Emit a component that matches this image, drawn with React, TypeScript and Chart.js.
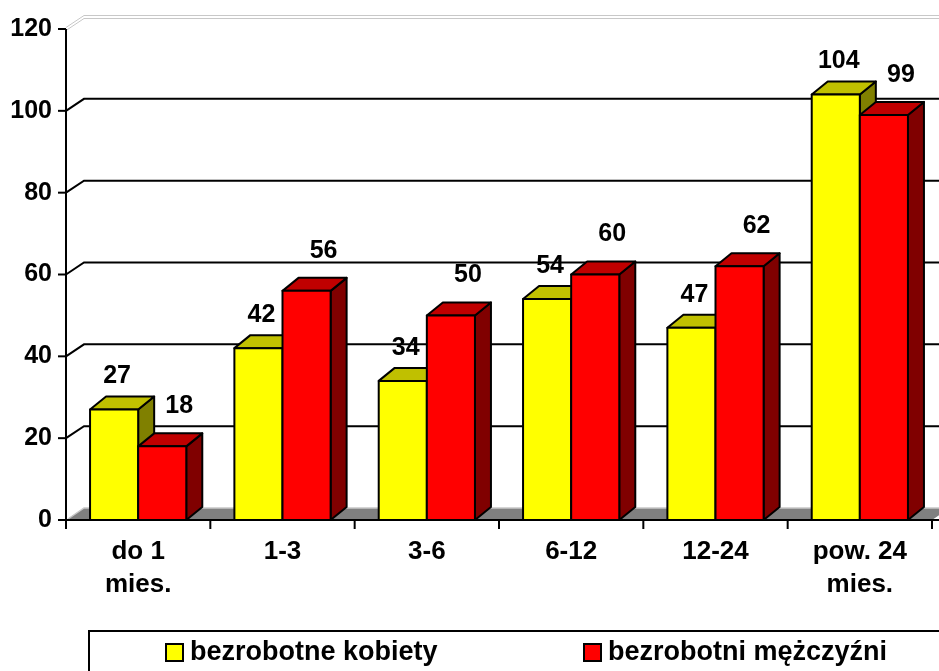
import React, { useEffect, useRef } from "react";
import { Chart, registerables } from "chart.js";

Chart.register(...registerables);

const categories: (string | string[])[] = [["do 1", "mies."], "1-3", "3-6", "6-12", "12-24", ["pow. 24", "mies."]];
const women = [27, 42, 34, 54, 47, 104];
const men = [18, 56, 50, 60, 62, 99];
const seriesNames = ["bezrobotne kobiety", "bezrobotni mężczyźni"];
const yTicks = [0, 20, 40, 60, 80, 100, 120];

const FONT = "'Liberation Sans', Arial, sans-serif";
const colorsFront = ["#FFFF00", "#FF0000"];
const colorsTop = ["#C0C000", "#C00000"];
const colorsSide = ["#808000", "#800000"];

const WALL_DX = 18;
const WALL_DY = -12;
const BAR_DX = 16;
const BAR_DY = -13;

const threeD = {
  id: "threeD",
  beforeDatasetsDraw(chart: any) {
    const ctx: CanvasRenderingContext2D = chart.ctx;
    const area = chart.chartArea;
    const y = chart.scales.y;
    const L = area.left;
    const R = area.right;
    const B = y.getPixelForValue(0);
    const T = y.getPixelForValue(120);
    ctx.save();
    // floor
    ctx.beginPath();
    ctx.moveTo(L, B);
    ctx.lineTo(R, B);
    ctx.lineTo(R + WALL_DX, B + WALL_DY);
    ctx.lineTo(L + WALL_DX, B + WALL_DY);
    ctx.closePath();
    ctx.fillStyle = "#808080";
    ctx.fill();
    ctx.strokeStyle = "#C8C8C8";
    ctx.lineWidth = 1.5;
    ctx.beginPath();
    ctx.moveTo(L + 2, B - 1);
    ctx.lineTo(L + WALL_DX, B + WALL_DY);
    ctx.lineTo(R + WALL_DX + 20, B + WALL_DY);
    ctx.stroke();

    // gridlines on back wall and diagonals
    for (const v of yTicks) {
      if (v === 0) continue;
      const py = y.getPixelForValue(v);
      if (v === 120) {
        ctx.strokeStyle = "#C8C8C8";
        ctx.lineWidth = 1;
        for (const off of [-1.5, 1.5]) {
          ctx.beginPath();
          ctx.moveTo(L, py + off);
          ctx.lineTo(L + WALL_DX, py + WALL_DY + off);
          ctx.lineTo(R + WALL_DX + 20, py + WALL_DY + off);
          ctx.stroke();
        }
      } else {
        ctx.strokeStyle = "#000";
        ctx.lineWidth = 2;
        ctx.beginPath();
        ctx.moveTo(L, py);
        ctx.lineTo(L + WALL_DX, py + WALL_DY);
        ctx.lineTo(R + WALL_DX + 20, py + WALL_DY);
        ctx.stroke();
      }
    }

    // axes
    ctx.strokeStyle = "#000";
    ctx.lineWidth = 2;
    ctx.beginPath();
    ctx.moveTo(L, T);
    ctx.lineTo(L, B + 8);
    ctx.moveTo(L, B);
    ctx.lineTo(R + 20, B);
    ctx.stroke();
    for (const v of yTicks) {
      const py = y.getPixelForValue(v);
      ctx.beginPath();
      ctx.moveTo(L - 8, py);
      ctx.lineTo(L, py);
      ctx.stroke();
    }
    const n = categories.length;
    for (let i = 0; i <= n; i++) {
      const px = L + ((R - L) * i) / n;
      ctx.beginPath();
      ctx.moveTo(px, B);
      ctx.lineTo(px, B + 9);
      ctx.stroke();
    }

    // bars
    const metas = [chart.getDatasetMeta(0), chart.getDatasetMeta(1)];
    for (let j = 0; j < n; j++) {
      for (let d = 0; d < 2; d++) {
        const el = metas[d].data[j];
        const { x: cx, y: top, base, width } = el.getProps(["x", "y", "base", "width"], true);
        const l = cx - width / 2;
        const r = cx + width / 2;
        ctx.lineWidth = 2;
        ctx.lineJoin = "round";
        ctx.strokeStyle = "#000";
        ctx.beginPath();
        ctx.moveTo(r, top);
        ctx.lineTo(r + BAR_DX, top + BAR_DY);
        ctx.lineTo(r + BAR_DX, base + BAR_DY);
        ctx.lineTo(r, base);
        ctx.closePath();
        ctx.fillStyle = colorsSide[d];
        ctx.fill();
        ctx.stroke();
        ctx.beginPath();
        ctx.moveTo(l, top);
        ctx.lineTo(l + BAR_DX, top + BAR_DY);
        ctx.lineTo(r + BAR_DX, top + BAR_DY);
        ctx.lineTo(r, top);
        ctx.closePath();
        ctx.fillStyle = colorsTop[d];
        ctx.fill();
        ctx.stroke();
        ctx.beginPath();
        ctx.rect(l, top, width, base - top);
        ctx.fillStyle = colorsFront[d];
        ctx.fill();
        ctx.stroke();
      }
    }
    ctx.restore();
    return false;
  },
  afterDraw(chart: any) {
    const ctx: CanvasRenderingContext2D = chart.ctx;
    ctx.save();
    ctx.font = `bold 25px ${FONT}`;
    ctx.fillStyle = "#000";
    ctx.textAlign = "center";
    ctx.textBaseline = "middle";
    const offsets = [
      { dx: 3, dy: -33 },
      { dx: 17, dy: -40 },
    ];
    for (let d = 0; d < 2; d++) {
      const meta = chart.getDatasetMeta(d);
      const data = chart.data.datasets[d].data;
      meta.data.forEach((el: any, j: number) => {
        const { x: cx, y: top } = el.getProps(["x", "y"], true);
        ctx.fillText(String(data[j]), cx + offsets[d].dx, top + offsets[d].dy);
      });
    }
    // legend
    ctx.strokeStyle = "#000";
    ctx.lineWidth = 2;
    ctx.strokeRect(89, 631, 900, 80);
    const legendPos = [166, 584];
    ctx.textAlign = "left";
    ctx.font = `bold 27px ${FONT}`;
    for (let d = 0; d < 2; d++) {
      const lx = legendPos[d];
      ctx.fillStyle = colorsFront[d];
      ctx.fillRect(lx, 644, 17, 17);
      ctx.strokeRect(lx, 644, 17, 17);
      ctx.fillStyle = "#000";
      ctx.fillText(chart.data.datasets[d].label, lx + 24, 653);
    }
    ctx.restore();
  },
};

export default function App() {
  const ref = useRef<HTMLCanvasElement | null>(null);
  useEffect(() => {
    if (!ref.current) return;
    const chart = new Chart(ref.current, {
      type: "bar",
      data: {
        labels: categories,
        datasets: [
          { label: seriesNames[0], data: women, backgroundColor: colorsFront[0], borderColor: "#000", borderWidth: 2 },
          { label: seriesNames[1], data: men, backgroundColor: colorsFront[1], borderColor: "#000", borderWidth: 2 },
        ],
      },
      options: {
        responsive: false,
        animation: false,
        devicePixelRatio: 1,
        layout: { padding: { top: 27, right: 7, left: 0, bottom: 0 } },
        datasets: { bar: { categoryPercentage: 0.6667, barPercentage: 1 } },
        plugins: { legend: { display: false }, tooltip: { enabled: false } },
        scales: {
          x: {
            grid: { display: false, drawTicks: false },
            border: { display: false },
            ticks: {
              color: "#000",
              font: { family: FONT, size: 26, weight: "bold", lineHeight: 1.27 },
              padding: 15,
              maxRotation: 0,
              autoSkip: false,
            },
            afterFit: (s: any) => {
              s.height = 151;
            },
          },
          y: {
            min: 0,
            max: 120,
            grid: { display: false, drawTicks: false },
            border: { display: false },
            ticks: {
              stepSize: 20,
              color: "#000",
              font: { family: FONT, size: 25, weight: "bold" },
              padding: 14,
            },
            afterFit: (s: any) => {
              s.width = 66;
            },
          },
        },
      },
      plugins: [threeD],
    } as any);
    return () => chart.destroy();
  }, []);
  return (
    <div style={{ position: "absolute", left: 0, top: 0, width: 939, height: 671, background: "#fff" }}>
      <canvas ref={ref} width={939} height={671} style={{ width: 939, height: 671 }} />
    </div>
  );
}
